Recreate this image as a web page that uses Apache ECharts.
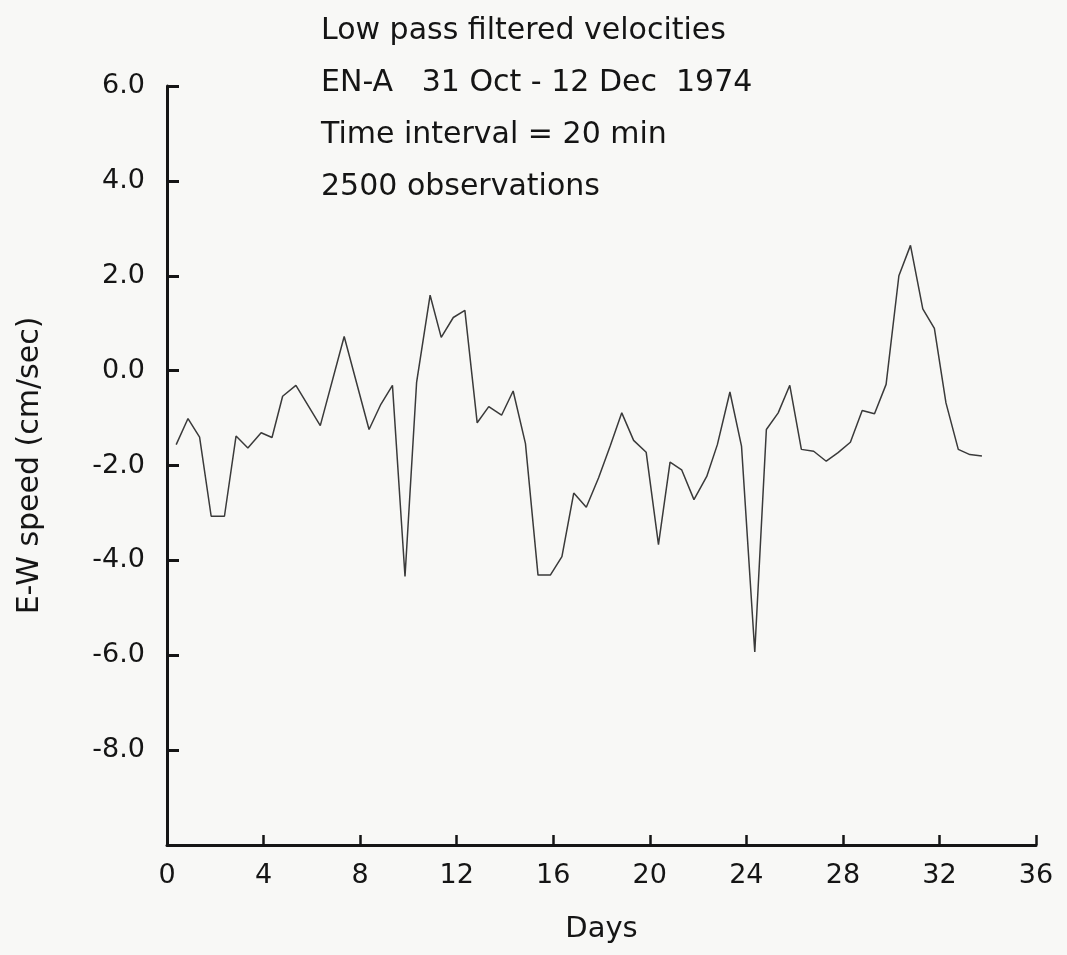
<!DOCTYPE html>
<html>
<head>
<meta charset="utf-8">
<script src="https://cdn.jsdelivr.net/npm/echarts@6/dist/echarts.min.js"></script>
<style>
html,body{margin:0;padding:0;background:#f8f8f6;}
#chart{width:1067px;height:955px;}
</style>
</head>
<body>
<div id="chart"></div>
<script>
// Data
const days = [0.38,0.87,1.35,1.83,2.38,2.86,3.35,3.90,4.35,4.79,5.34,6.35,7.34,8.37,8.86,9.34,9.86,10.34,10.90,11.36,11.86,12.34,12.85,13.33,
  13.86,14.34,14.85,15.37,15.88,16.36,16.85,17.37,17.88,18.36,18.84,19.33,19.85,20.36,20.84,21.32,21.83,22.36,22.80,23.32,23.80,24.35,
  24.83,25.32,25.80,26.28,26.79,27.31,27.80,28.31,28.80,29.31,29.79,30.32,30.80,31.31,31.79,32.27,32.78,33.26,33.76];
const speed = [-1.56,-1.01,-1.40,-3.07,-3.07,-1.38,-1.63,-1.31,-1.41,-0.54,-0.31,-1.16,0.72,-1.24,-0.71,-0.31,-4.34,-0.25,1.59,0.70,1.12,1.27,-1.10,-0.76,
  -0.94,-0.43,-1.54,-4.31,-4.31,-3.92,-2.58,-2.88,-2.26,-1.59,-0.89,-1.47,-1.72,-3.67,-1.93,-2.09,-2.72,-2.23,-1.56,-0.45,-1.59,-5.93,
  -1.24,-0.89,-0.31,-1.66,-1.70,-1.91,-1.73,-1.51,-0.84,-0.91,-0.29,2.00,2.64,1.30,0.89,-0.68,-1.66,-1.77,-1.80];
const xTicks = [0,4,8,12,16,20,24,28,32,36];
const yTicks = [-10,-8,-6,-4,-2,0,2,4,6];
const titleLines = ['Low pass filtered velocities','EN-A   31 Oct - 12 Dec  1974','Time interval = 20 min','2500 observations'];

const FONT = 'DejaVu Sans';
const INK = '#151515';
const chart = echarts.init(document.getElementById('chart'));
const series = days.map((d,i)=>[d, speed[i]]);

chart.setOption({
  backgroundColor: '#f8f8f6',
  animation: false,
  title: titleLines.map((t,i)=>({
    text: t, left: 316, top: 11 + i*52,
    textStyle: {fontFamily: FONT, fontSize: 30, fontWeight: 'normal', color: INK}
  })),
  grid: {left: 167, right: 31, top: 86, bottom: 110},
  xAxis: {
    type: 'value', min: xTicks[0], max: xTicks[xTicks.length-1], interval: 4,
    name: 'Days', nameLocation: 'middle', nameGap: 70,
    nameTextStyle: {fontFamily: FONT, fontSize: 29, color: INK},
    axisLine: {onZero: false, lineStyle: {color: INK, width: 3}},
    axisTick: {inside: true, length: 10, lineStyle: {color: INK, width: 2.5}},
    axisLabel: {fontFamily: FONT, fontSize: 27, color: INK, margin: 17},
    splitLine: {show: false}
  },
  yAxis: {
    type: 'value', min: yTicks[0], max: yTicks[yTicks.length-1], interval: 2,
    name: 'E-W speed (cm/sec)', nameLocation: 'middle', nameGap: 122, nameRotate: 90,
    nameTextStyle: {fontFamily: FONT, fontSize: 30, color: INK},
    axisLine: {onZero: false, lineStyle: {color: INK, width: 3}},
    axisTick: {inside: true, length: 12, lineStyle: {color: INK, width: 3}},
    axisLabel: {fontFamily: FONT, fontSize: 27, color: INK, margin: 22,
      formatter: v => (v === yTicks[0] ? '' : v.toFixed(1))},
    splitLine: {show: false}
  },
  series: [{
    type: 'line', data: series, showSymbol: false, smooth: false,
    lineStyle: {color: '#3a3a3a', width: 1.5}
  }]
});
</script>
</body>
</html>
